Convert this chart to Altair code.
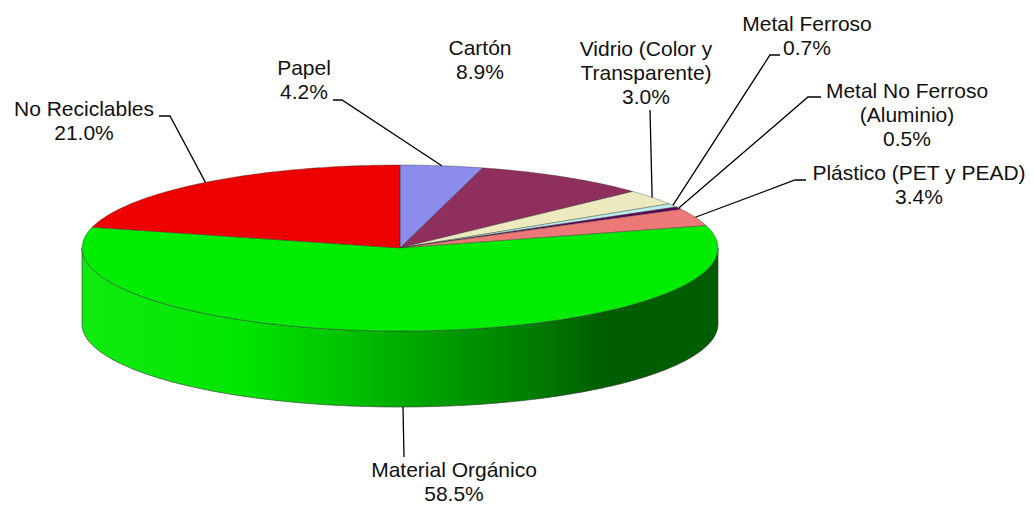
import altair as alt
import pandas as pd

# ---- data ----
categories = ["Papel", "Cartón", "Vidrio (Color y Transparente)", "Metal Ferroso",
              "Metal No Ferroso (Aluminio)", "Plástico (PET y PEAD)",
              "Material Orgánico", "No Reciclables"]
label_names = ["Papel", "Cartón", "Vidrio (Color y\nTransparente)", "Metal Ferroso",
               "Metal No Ferroso\n(Aluminio)", "Plástico (PET y PEAD)",
               "Material Orgánico", "No Reciclables"]
percent = [4.2, 8.9, 3.0, 0.7, 0.5, 3.4, 58.5, 21.0]

# ---- styling / layout (not data) ----
colors = ["#8c8cec", "#8e2f5e", "#ecebbf", "#bfecec", "#5e005e", "#ec7878", "#00ec00", "#ec0000"]
label_x = [304, 480, 646, 807, 907, 919, 454, 84]
label_y = [75, 55, 56, 31, 98, 180, 477, 116]
lead_sx = [333, None, 650, 780, 821, 806, 404, 159]
lead_sy = [100, None, 110, 55, 97, 180, 457, 116]
lead_ex = [342, None, 650, 770, 808, 795, 404, 170]
lead_ey = [100, None, 110, 55, 97, 180, 457, 116]

CX, CY, RX, RY, H = 400, 248, 318, 83, 76
N = 120
W, HT = 1034, 506

df = pd.DataFrame({
    "category": categories,
    "value": percent,
    "order": list(range(len(categories))),
    "label": [f"{n}\n{v:.1f}%" for n, v in zip(label_names, percent)],
    "lx": label_x, "ly": label_y,
    "sx": lead_sx, "sy": lead_sy, "ex": lead_ex, "ey": lead_ey,
})

xs = alt.Scale(domain=[0, W], nice=False, zero=False)
ys = alt.Scale(domain=[0, HT], nice=False, zero=False, reverse=True)
fill_scale = alt.Scale(domain=categories, range=colors)

base = alt.Chart(df).transform_joinaggregate(
    total="sum(value)"
).transform_window(
    cum="sum(value)", sort=[alt.SortField("order")], frame=[None, 0]
).transform_calculate(
    a0="2*PI*(datum.cum - datum.value)/datum.total",
    a1="2*PI*datum.cum/datum.total",
)

# side wall (front half only)
wall = base.transform_calculate(
    w0="max(datum.a0, PI/2)", w1="min(datum.a1, 3*PI/2)"
).transform_filter("datum.w1 > datum.w0").transform_calculate(
    pts=f"sequence(0, {N + 1})"
).transform_flatten(["pts"], as_=["k"]).transform_calculate(
    t=f"datum.w0 + (datum.w1 - datum.w0)*datum.k/{N}"
).transform_calculate(
    wx=f"{CX} + {RX}*sin(datum.t)",
    wy=f"{CY} - {RY}*cos(datum.t)",
    wy2=f"{CY} - {RY}*cos(datum.t) + {H}",
).mark_area(
    color=alt.Gradient(
        gradient="linear", x1=0, x2=1, y1=0, y2=0,
        stops=[
            alt.GradientStop(color="#10ea10", offset=0),
            alt.GradientStop(color="#00e600", offset=0.25),
            alt.GradientStop(color="#00c600", offset=0.4),
            alt.GradientStop(color="#00a000", offset=0.55),
            alt.GradientStop(color="#007e00", offset=0.7),
            alt.GradientStop(color="#005e00", offset=0.82),
            alt.GradientStop(color="#005c00", offset=1),
        ],
    ),
    stroke="#3a3a3a", strokeWidth=0.8, strokeOpacity=0.8,
).encode(
    x=alt.X("wx:Q", scale=xs, axis=None),
    y=alt.Y("wy:Q", scale=ys, axis=None),
    y2="wy2:Q",
    detail="category:N",
)

# top face slices
top = base.transform_calculate(
    pts=f"sequence(0, {N + 3})"
).transform_flatten(["pts"], as_=["k"]).transform_calculate(
    t=f"datum.a0 + (datum.a1 - datum.a0)*(datum.k - 1)/{N}"
).transform_calculate(
    px=f"(datum.k == 0 || datum.k == {N + 2}) ? {CX} : {CX} + {RX}*sin(datum.t)",
    py=f"(datum.k == 0 || datum.k == {N + 2}) ? {CY} : {CY} - {RY}*cos(datum.t)",
).mark_line(strokeWidth=0.7, strokeOpacity=0.55, stroke="#333333").encode(
    x=alt.X("px:Q", scale=xs, axis=None),
    y=alt.Y("py:Q", scale=ys, axis=None),
    fill=alt.Fill("category:N", scale=fill_scale, legend=None),
    detail="category:N",
    order="k:Q",
)

# leader lines
leaders = base.transform_filter("datum.sx != null").transform_calculate(
    mid="(datum.a0 + datum.a1)/2",
    pts="sequence(0, 3)",
).transform_flatten(["pts"], as_=["k"]).transform_calculate(
    lxp=f"datum.k == 0 ? datum.sx : (datum.k == 1 ? datum.ex : {CX} + {RX}*sin(datum.mid))",
    lyp=f"datum.k == 0 ? datum.sy : (datum.k == 1 ? datum.ey : {CY} - {RY}*cos(datum.mid) + (cos(datum.mid) < -0.7 ? {H} : 0))",
).mark_line(color="black", strokeWidth=1.3).encode(
    x=alt.X("lxp:Q", scale=xs, axis=None),
    y=alt.Y("lyp:Q", scale=ys, axis=None),
    detail="category:N",
    order="k:Q",
)

labels = alt.Chart(df).mark_text(
    align="center", baseline="alphabetic", font="Liberation Sans", fontSize=21,
    lineBreak="\n", lineHeight=24, color="#111111",
).encode(
    x=alt.X("lx:Q", scale=xs, axis=None),
    y=alt.Y("ly:Q", scale=ys, axis=None),
    text="label:N",
)

chart = alt.layer(wall, top, leaders, labels).properties(
    width=W, height=HT, padding=0, autosize="none", background="white"
).configure_view(strokeWidth=0)

chart.save("out.html", embed_options={"renderer": "svg", "actions": False})
